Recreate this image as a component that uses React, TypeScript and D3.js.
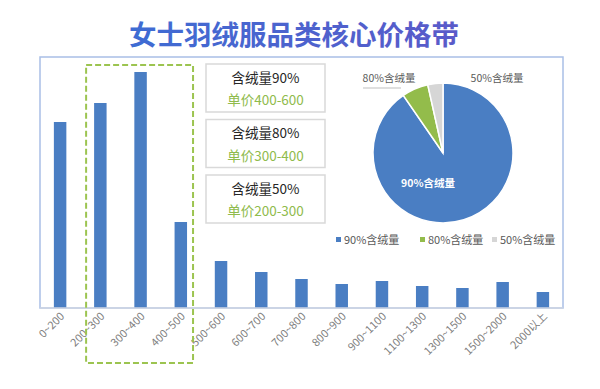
import { useEffect, useRef } from "react";
import * as d3 from "d3";

// price bands (yuan) and their bar heights (estimated share)
const priceBands = ["0~200", "200~300", "300~400", "400~500", "500~600", "600~700", "700~800",
  "800~900", "900~1100", "1100~1300", "1300~1500", "1500~2000", "2000以上"];
const bandShare = [18.6, 20.5, 23.6, 8.6, 4.7, 3.6, 2.9, 2.4, 2.7, 2.2, 2.0, 2.6, 1.6];

// down content mix
const pieNames = ["90%含绒量", "80%含绒量", "50%含绒量"];
const pieValues = [90.4, 6.1, 3.5];
const pieColors = ["#4a7ec3", "#93bc4b", "#d6d6d6"];

const boxTitles = ["含绒量90%", "含绒量80%", "含绒量50%"];
const boxPrices = ["单价400-600", "单价300-400", "单价200-300"];

const W = 600, H = 389;
const font = "'Noto Sans CJK SC', 'Noto Sans', sans-serif";

export default function App() {
  const ref = useRef<SVGSVGElement>(null);

  useEffect(() => {
    const svg = d3.select(ref.current);
    svg.selectAll("*").remove();

    // title with gradient
    const defs = svg.append("defs");
    const grad = defs.append("linearGradient").attr("id", "tg");
    grad.append("stop").attr("offset", "0%").attr("stop-color", "#3e6cd3");
    grad.append("stop").attr("offset", "100%").attr("stop-color", "#5a5ac9");

    svg.append("text")
      .attr("x", 294).attr("y", 45)
      .attr("text-anchor", "middle")
      .attr("font-family", font).attr("font-weight", 700).attr("font-size", 27.5)
      .attr("fill", "url(#tg)")
      .text("女士羽绒服品类核心价格带");

    const left = 40, right = 563, top = 57, base = 308;

    // frame
    svg.append("rect")
      .attr("x", left).attr("y", top)
      .attr("width", right - left).attr("height", base - top)
      .attr("fill", "none").attr("stroke", "#a9bfe6").attr("stroke-width", 1.5);

    const x = d3.scaleBand().domain(priceBands).range([left, right]).paddingInner(0.69).paddingOuter(0.345);
    const y = d3.scaleLinear().domain([0, 25]).range([base, base - 250]);

    svg.append("g").selectAll("rect").data(bandShare).enter().append("rect")
      .attr("x", (d, i) => x(priceBands[i])!)
      .attr("y", d => y(d))
      .attr("width", x.bandwidth())
      .attr("height", d => base - y(d))
      .attr("fill", "#4a7ec3");

    svg.append("line")
      .attr("x1", left).attr("x2", right).attr("y1", base).attr("y2", base)
      .attr("stroke", "#cfd6e3").attr("stroke-width", 1.5);

    svg.append("g").selectAll("text").data(priceBands).enter().append("text")
      .attr("transform", d => `translate(${x(d)! + x.bandwidth() / 2 + 5},${base + 9}) rotate(-45)`)
      .attr("text-anchor", "end")
      .attr("font-family", font).attr("font-size", 11)
      .attr("fill", "#808080")
      .text(d => d);

    // dashed highlight around 200~500
    const hx0 = x("200~300")! - 8, hx1 = x("400~500")! + x.bandwidth() + 6;
    svg.append("rect")
      .attr("x", hx0).attr("y", 65)
      .attr("width", hx1 - hx0).attr("height", 298)
      .attr("fill", "none").attr("stroke", "#9cc450").attr("stroke-width", 2)
      .attr("stroke-dasharray", "6,3");

    // info boxes
    const boxes = svg.append("g");
    boxTitles.forEach((t, i) => {
      const by = 64 + i * 55.5;
      boxes.append("rect").attr("x", 206).attr("y", by).attr("width", 119).attr("height", 48)
        .attr("fill", "#fff").attr("stroke", "#d9d9d9").attr("stroke-width", 1.5);
      boxes.append("text").attr("x", 265.5).attr("y", by + 18.5).attr("text-anchor", "middle")
        .attr("font-family", font).attr("font-size", 13.5).attr("fill", "#262626").text(t);
      boxes.append("text").attr("x", 265.5).attr("y", by + 41).attr("text-anchor", "middle")
        .attr("font-family", font).attr("font-size", 13.5).attr("fill", "#8fbb4c").text(boxPrices[i]);
    });

    // pie
    const cx = 443, cy = 153, r = 70;
    const pie = d3.pie<number>().sort(null)(pieValues);
    const arc = d3.arc<d3.PieArcDatum<number>>().innerRadius(0).outerRadius(r);
    const pg = svg.append("g").attr("transform", `translate(${cx},${cy})`);
    pg.selectAll("path").data(pie).enter().append("path")
      .attr("d", arc)
      .attr("fill", (d, i) => pieColors[i])
      .attr("stroke", "#fff").attr("stroke-width", 1.5);

    pg.append("text").attr("x", -15).attr("y", 34).attr("text-anchor", "middle")
      .attr("font-family", font).attr("font-size", 10.5).attr("font-weight", 700)
      .attr("fill", "#fff").text(pieNames[0]);
    pg.append("text").attr("x", -54).attr("y", -71).attr("text-anchor", "middle")
      .attr("font-family", font).attr("font-size", 10.5).attr("fill", "#595959").text(pieNames[1]);
    pg.append("line").attr("x1", -80).attr("x2", -42).attr("y1", -65).attr("y2", -65)
      .attr("stroke", "#bfbfbf").attr("stroke-width", 1);
    pg.append("text").attr("x", 54).attr("y", -71).attr("text-anchor", "middle")
      .attr("font-family", font).attr("font-size", 10.5).attr("fill", "#595959").text(pieNames[2]);

    // legend
    const lx = [336, 420, 492];
    const lg = svg.append("g");
    pieNames.forEach((n, i) => {
      lg.append("rect").attr("x", lx[i]).attr("y", 237).attr("width", 5).attr("height", 5).attr("fill", pieColors[i]);
      lg.append("text").attr("x", lx[i] + 8).attr("y", 243.5)
        .attr("font-family", font).attr("font-size", 11).attr("fill", "#595959").text(n);
    });
  }, []);

  return (
    <svg ref={ref} width={W} height={H} style={{ display: "block", position: "absolute", left: 0, top: 0, background: "#fff" }} />
  );
}
